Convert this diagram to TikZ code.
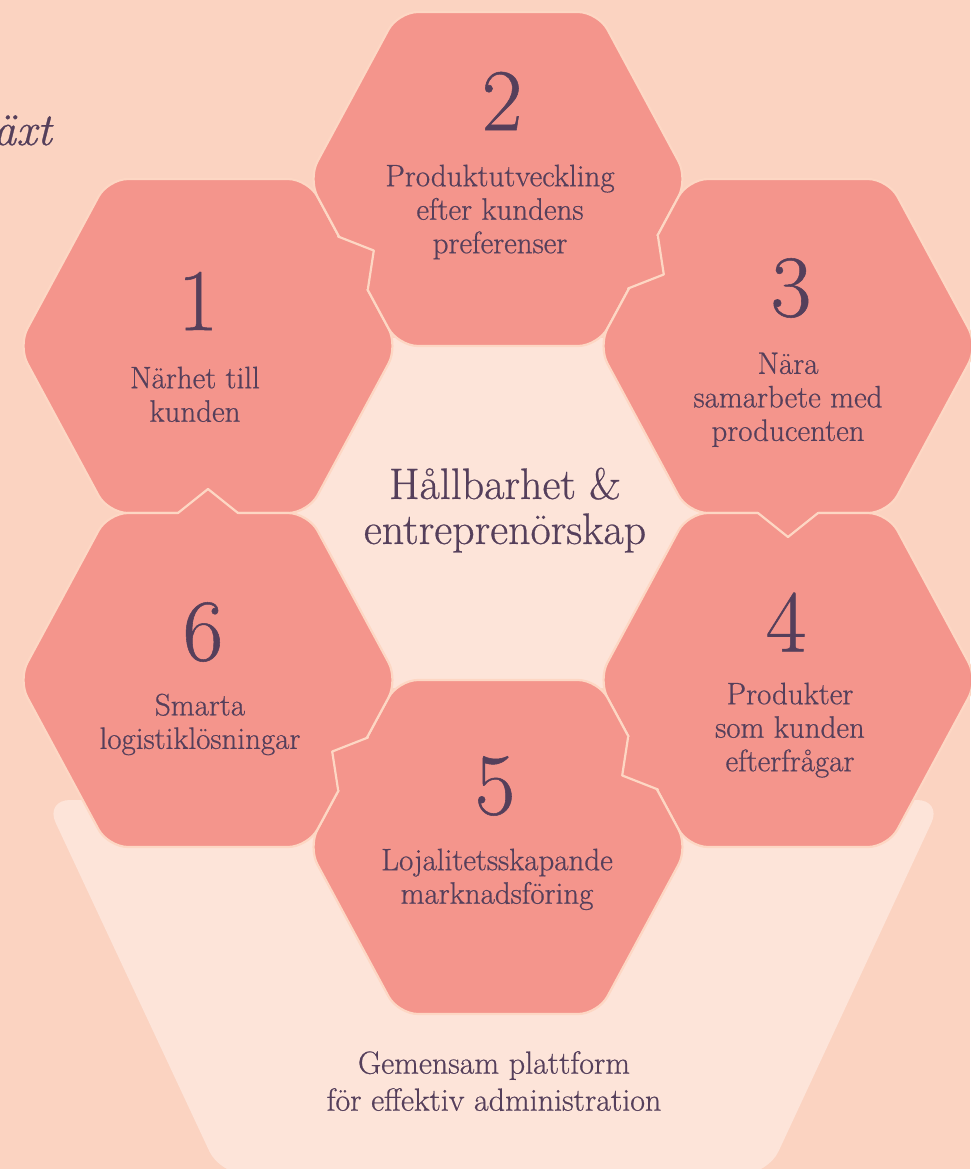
\documentclass[tikz,border=0pt]{standalone}
\usepackage{fontspec}
\setmainfont{Latin Modern Roman}[FakeBold=0.6]
\usetikzlibrary{calc}
\definecolor{bgpeach}{HTML}{FBD3C1}
\definecolor{lightpeach}{HTML}{FDE4D9}
\definecolor{hexsalmon}{HTML}{F4958C}
\definecolor{inkpurple}{HTML}{553F5B}
\definecolor{seam}{HTML}{FDD7C4}
\tikzset{
  hexshape/.style={fill=hexsalmon, draw=seam, line width=2.2pt, rounded corners=20pt, line join=round},
  seamline/.style={draw=seam, line width=2.2pt, line join=round, line cap=round},
  numtxt/.style={text=inkpurple, font=\fontsize{88}{88}\selectfont, inner sep=0pt},
  bodytxt/.style={text=inkpurple, font=\fontsize{31}{33.5}\selectfont, align=center, inner sep=0pt, anchor=north},
}
\newcommand{\hexat}[1]{\path[hexshape] (#1) ++(-190,0) -- ++(90,-167) -- ++(200,0) -- ++(90,167) -- ++(-90,167) -- ++(-200,0) -- cycle;}
\newcommand{\hxtab}[2]{%
  \coordinate (tm) at ($(#1)!0.5!(#2)$);
  \coordinate (tms) at ($(tm)!5pt!(#1)$);
  \coordinate (ta) at ($(tm)!30pt!90:(#2)$);
  \coordinate (tc) at ($(tm)!30pt!-90:(#2)$);
  \coordinate (tas) at ($(tms)!30pt!90:(#2)$);
  \coordinate (tcs) at ($(tms)!30pt!-90:(#2)$);
  \coordinate (tb) at ($(tm)!24pt!(#2)$);
  \fill[hexsalmon] (tas) -- (ta) -- (tb) -- (tc) -- (tcs) -- cycle;
  \draw[seamline] (ta) -- (tb) -- (tc);
}
\begin{document}
\begin{tikzpicture}[x=1pt,y=-1pt]
\useasboundingbox (0,0) rectangle (970,1169);
\fill[bgpeach] (0,0) rectangle (970,1169);
% light base shapes
\fill[lightpeach, rounded corners=25pt] (45,800) -- (942,800) -- (768,1174) -- (220,1174) -- cycle;
\fill[lightpeach] (498,513) ++(-205,0) -- ++(95,-175) -- ++(220,0) -- ++(95,175) -- ++(-95,175) -- ++(-220,0) -- cycle;
% hexagon centres
\coordinate (h1) at (208,346);
\coordinate (h2) at (498,179);
\coordinate (h3) at (788,346);
\coordinate (h4) at (788,680);
\coordinate (h5) at (498,847);
\coordinate (h6) at (208,680);
\hexat{h1}
\hexat{h2}
\hexat{h3}
\hexat{h4}
\hexat{h5}
\hexat{h6}
% interlocking tabs
\hxtab{h1}{h2}
\hxtab{h2}{h3}
\hxtab{h3}{h4}
\hxtab{h4}{h5}
\hxtab{h5}{h6}
\hxtab{h6}{h1}
% numbers
\node[numtxt] (n1) at (198,301) {1};
\node[numtxt] (n2) at (502,101) {2};
\node[numtxt] (n3) at (791,288) {3};
\node[numtxt] (n4) at (786,622) {4};
\node[numtxt] (n5) at (495,786) {5};
\node[numtxt] (n6) at (203,632) {6};
% labels
\node[bodytxt] (t1) at (195,366.5) {Närhet till\\kunden};
\node[bodytxt] (t2) at (500,164.5) {Produktutveckling\\efter kundens\\preferenser};
\node[bodytxt] (t3) at (788,352.5) {Nära\\samarbete med\\producenten};
\node[bodytxt] (t4) at (790,682.5) {Produkter\\som kunden\\efterfrågar};
\node[bodytxt] (t5) at (497,848.5) {Lojalitetsskapande\\marknadsföring};
\node[bodytxt] (t6) at (200,693.5) {Smarta\\logistiklösningar};
\node[bodytxt, font=\fontsize{44}{45}\selectfont] (tc) at (505,467.5) {Hållbarhet \&\\entreprenörskap};
\node[bodytxt, font=\fontsize{32}{37}\selectfont] (tb) at (494,1051) {Gemensam plattform\\för effektiv administration};
\node[text=inkpurple, font=\fontsize{46}{46}\selectfont\itshape, inner sep=0pt, anchor=base east] (vx) at (52,145) {äxt};
\end{tikzpicture}
\end{document}
